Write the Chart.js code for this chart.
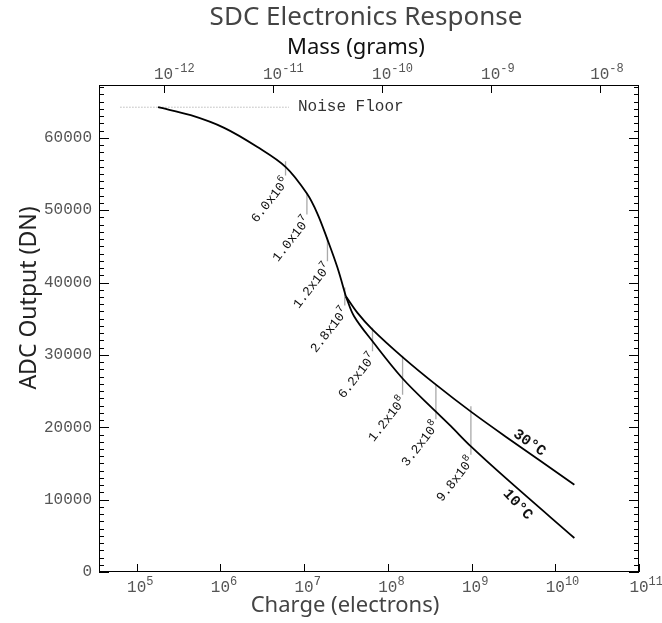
<!DOCTYPE html>
<html lang="en">
<head>
<meta charset="UTF-8">
<title>SDC Electronics Response</title>
<script src="https://cdn.jsdelivr.net/npm/chart.js@4.4.1/dist/chart.umd.min.js"></script>
<style>
  body { margin: 0; background: #fff; }
  #wrap { width: 662px; height: 623px; }
</style>
</head>
<body>
<div id="wrap"><canvas id="canvas"></canvas></div>
<script>
// values
const sharedCharge = [1.80e5, 4.42e5, 1.11e6, 2.77e6, 6.04e6, 1.08e7, 1.44e7, 1.90e7, 2.50e7, 3.15e7];
const sharedAdc = [64230, 63130, 61380, 58730, 55960, 52300, 49540, 45940, 42070, 38100];
const warmCharge = [4.34e7, 6.56e7, 1.50e8, 3.75e8, 9.82e8, 2.69e9, 1.69e10];
const warmAdc = [35810, 33500, 29700, 25890, 22160, 18530, 12070];
const coldCharge = [3.95e7, 6.56e7, 1.50e8, 3.75e8, 5.93e8, 9.82e8, 2.69e9, 1.69e10];
const coldAdc = [35340, 31880, 26740, 22160, 19910, 17360, 12760, 4700];

const markCharge = [6.0e6, 1.08e7, 1.90e7, 3.06e7, 6.56e7, 1.50e8, 3.75e8, 9.82e8];
const markTop = [56770, 52400, 46220, 39300, 33770, 29900, 25830, 22900];
const markBottom = [54790, 49400, 42940, 36820, 30500, 24510, 21110, 16220];
const markBase = ['6.0x10', '1.0x10', '1.2x10', '2.8x10', '6.2x10', '1.2x10', '3.2x10', '9.8x10'];
const markExp = ['6', '7', '7', '7', '7', '8', '8', '8'];

const noiseLevel = 64230;
const noiseSpan = [6.4e4, 6.6e6];

const chargeDecades = [5, 6, 7, 8, 9, 10, 11];
const massDecades = [-12, -11, -10, -9, -8];
const yTicks = [0, 10000, 20000, 30000, 40000, 50000, 60000];

const MONO = '"Liberation Mono", "DejaVu Sans Mono", monospace';
const SANS = '"Noto Sans", "Open Sans", sans-serif';

function pts(xs, ys) { return xs.map((x, i) => ({ x: x, y: ys[i] })); }

const last = sharedCharge.length - 1;
const curve = { borderColor: '#000', borderWidth: 1.8, pointRadius: 0, tension: 0.35, fill: false };

const datasets = [
  Object.assign({ data: pts(sharedCharge, sharedAdc) }, curve),
  Object.assign({ data: [{ x: sharedCharge[last], y: sharedAdc[last] }].concat(pts(warmCharge, warmAdc)) }, curve),
  Object.assign({ data: [{ x: sharedCharge[last], y: sharedAdc[last] }].concat(pts(coldCharge, coldAdc)) }, curve),
  { data: [{ x: noiseSpan[0], y: noiseLevel }, { x: noiseSpan[1], y: noiseLevel }],
    borderColor: '#999', borderWidth: 1, borderDash: [1, 2], pointRadius: 0 }
];
markCharge.forEach((c, i) => {
  datasets.push({ data: [{ x: c, y: markTop[i] }, { x: c, y: markBottom[i] }],
    borderColor: '#aaa', borderWidth: 1.3, pointRadius: 0 });
});

function power(ctx, x, y, base, exp, size) {
  ctx.font = size + 'px ' + MONO;
  const w = ctx.measureText(base).width;
  ctx.textAlign = 'center';
  ctx.textBaseline = 'alphabetic';
  ctx.fillText(base, x, y);
  ctx.font = Math.round(size * 0.72) + 'px ' + MONO;
  ctx.textAlign = 'left';
  ctx.fillText(exp, x + w / 2, y - size * 0.45);
}

function label(ctx, text, x, y, size, color, angle) {
  ctx.save();
  ctx.translate(x, y);
  if (angle) ctx.rotate(angle * Math.PI / 180);
  ctx.fillStyle = color;
  ctx.font = size + 'px ' + SANS;
  ctx.textAlign = 'center';
  ctx.textBaseline = 'middle';
  ctx.fillText(text, 0, 0);
  ctx.restore();
}

const decor = {
  id: 'decor',
  afterDraw(chart) {
    const { ctx, chartArea: a, scales } = chart;
    const sx = scales.x, sy = scales.y, sm = scales.mass;
    ctx.save();

    // frame + inward ticks
    ctx.strokeStyle = '#000';
    ctx.lineWidth = 1;
    ctx.strokeRect(a.left + 0.5, a.top + 0.5, a.right - a.left - 1, a.bottom - a.top - 1);
    ctx.beginPath();
    for (let v = 0; v <= sy.max; v += 1000) {
      const py = Math.round(sy.getPixelForValue(v)) + 0.5;
      const len = v % 10000 === 0 ? 10 : 5;
      ctx.moveTo(a.left, py); ctx.lineTo(a.left + len, py);
      ctx.moveTo(a.right - len, py); ctx.lineTo(a.right, py);
    }
    chargeDecades.forEach(e => {
      const px = Math.round(sx.getPixelForValue(Math.pow(10, e))) + 0.5;
      ctx.moveTo(px, a.bottom); ctx.lineTo(px, a.bottom - 8);
    });
    massDecades.forEach(e => {
      const px = Math.round(sm.getPixelForValue(Math.pow(10, e))) + 0.5;
      ctx.moveTo(px, a.top); ctx.lineTo(px, a.top + 8);
    });
    ctx.stroke();

    // axis numbers
    ctx.fillStyle = '#555';
    ctx.font = '16px ' + MONO;
    ctx.textAlign = 'right';
    ctx.textBaseline = 'middle';
    yTicks.forEach(v => ctx.fillText(String(v), a.left - 7, sy.getPixelForValue(v)));
    chargeDecades.forEach(e => power(ctx, sx.getPixelForValue(Math.pow(10, e)), a.bottom + 20, '10', String(e), 16));
    massDecades.forEach(e => power(ctx, sm.getPixelForValue(Math.pow(10, e)), a.top - 6, '10', String(e), 16));

    // titles
    label(ctx, 'SDC Electronics Response', 366, 18, 26, '#444', 0);
    label(ctx, 'Mass (grams)', 356, 48, 22, '#111', 0);
    label(ctx, 'Charge (electrons)', 345, 606, 22, '#444', 0);
    label(ctx, 'ADC Output (DN)', 29, 298, 23, '#222', -90);

    // noise floor text
    ctx.fillStyle = '#333';
    ctx.font = '16px ' + MONO;
    ctx.textAlign = 'left';
    ctx.textBaseline = 'middle';
    ctx.fillText('Noise Floor', sx.getPixelForValue(noiseSpan[1]) + 9, sy.getPixelForValue(noiseLevel));

    // rotated labels under the grey marks
    ctx.fillStyle = '#111';
    markCharge.forEach((c, i) => {
      const px = sx.getPixelForValue(c);
      const py = sy.getPixelForValue(markBottom[i]);
      ctx.save();
      ctx.translate(px + 1, py + 4);
      ctx.rotate(-52 * Math.PI / 180);
      ctx.textAlign = 'right';
      ctx.textBaseline = 'middle';
      ctx.font = '10px ' + MONO;
      const ew = ctx.measureText(markExp[i]).width;
      ctx.fillText(markExp[i], 0, -5);
      ctx.font = '13px ' + MONO;
      ctx.fillText(markBase[i], -ew, 0);
      ctx.restore();
    });

    // temperature labels
    ctx.font = 'bold 15px ' + MONO;
    ctx.textAlign = 'center';
    ctx.textBaseline = 'middle';
    [['30°C', 4.9e9, 17830, 35], ['10°C', 3.55e9, 9300, 47]].forEach(t => {
      ctx.save();
      ctx.translate(sx.getPixelForValue(t[1]), sy.getPixelForValue(t[2]));
      ctx.rotate(t[3] * Math.PI / 180);
      ctx.fillText(t[0], 0, 0);
      ctx.restore();
    });
    ctx.restore();
  }
};

new Chart(document.getElementById('canvas').getContext('2d'), {
  type: 'line',
  data: { datasets: datasets },
  options: {
    responsive: true,
    maintainAspectRatio: false,
    animation: false,
    layout: { padding: { top: 35, left: 0, right: 23, bottom: 0 } },
    plugins: { legend: { display: false }, tooltip: { enabled: false }, title: { display: false } },
    scales: {
      x: {
        type: 'logarithmic', position: 'bottom',
        min: Math.pow(10, 4.55), max: 1e11,
        grid: { display: false }, border: { display: false },
        ticks: { display: false },
        afterFit(s) { s.height = 51; }
      },
      mass: {
        type: 'logarithmic', position: 'top',
        min: Math.pow(10, -12.592), max: Math.pow(10, -7.64),
        grid: { display: false }, border: { display: false },
        ticks: { display: false },
        afterFit(s) { s.height = 50; }
      },
      y: {
        type: 'linear', min: 0, max: 67300,
        grid: { display: false }, border: { display: false },
        ticks: { display: false },
        afterFit(s) { s.width = 99; }
      }
    }
  },
  plugins: [decor]
});
</script>
</body>
</html>
